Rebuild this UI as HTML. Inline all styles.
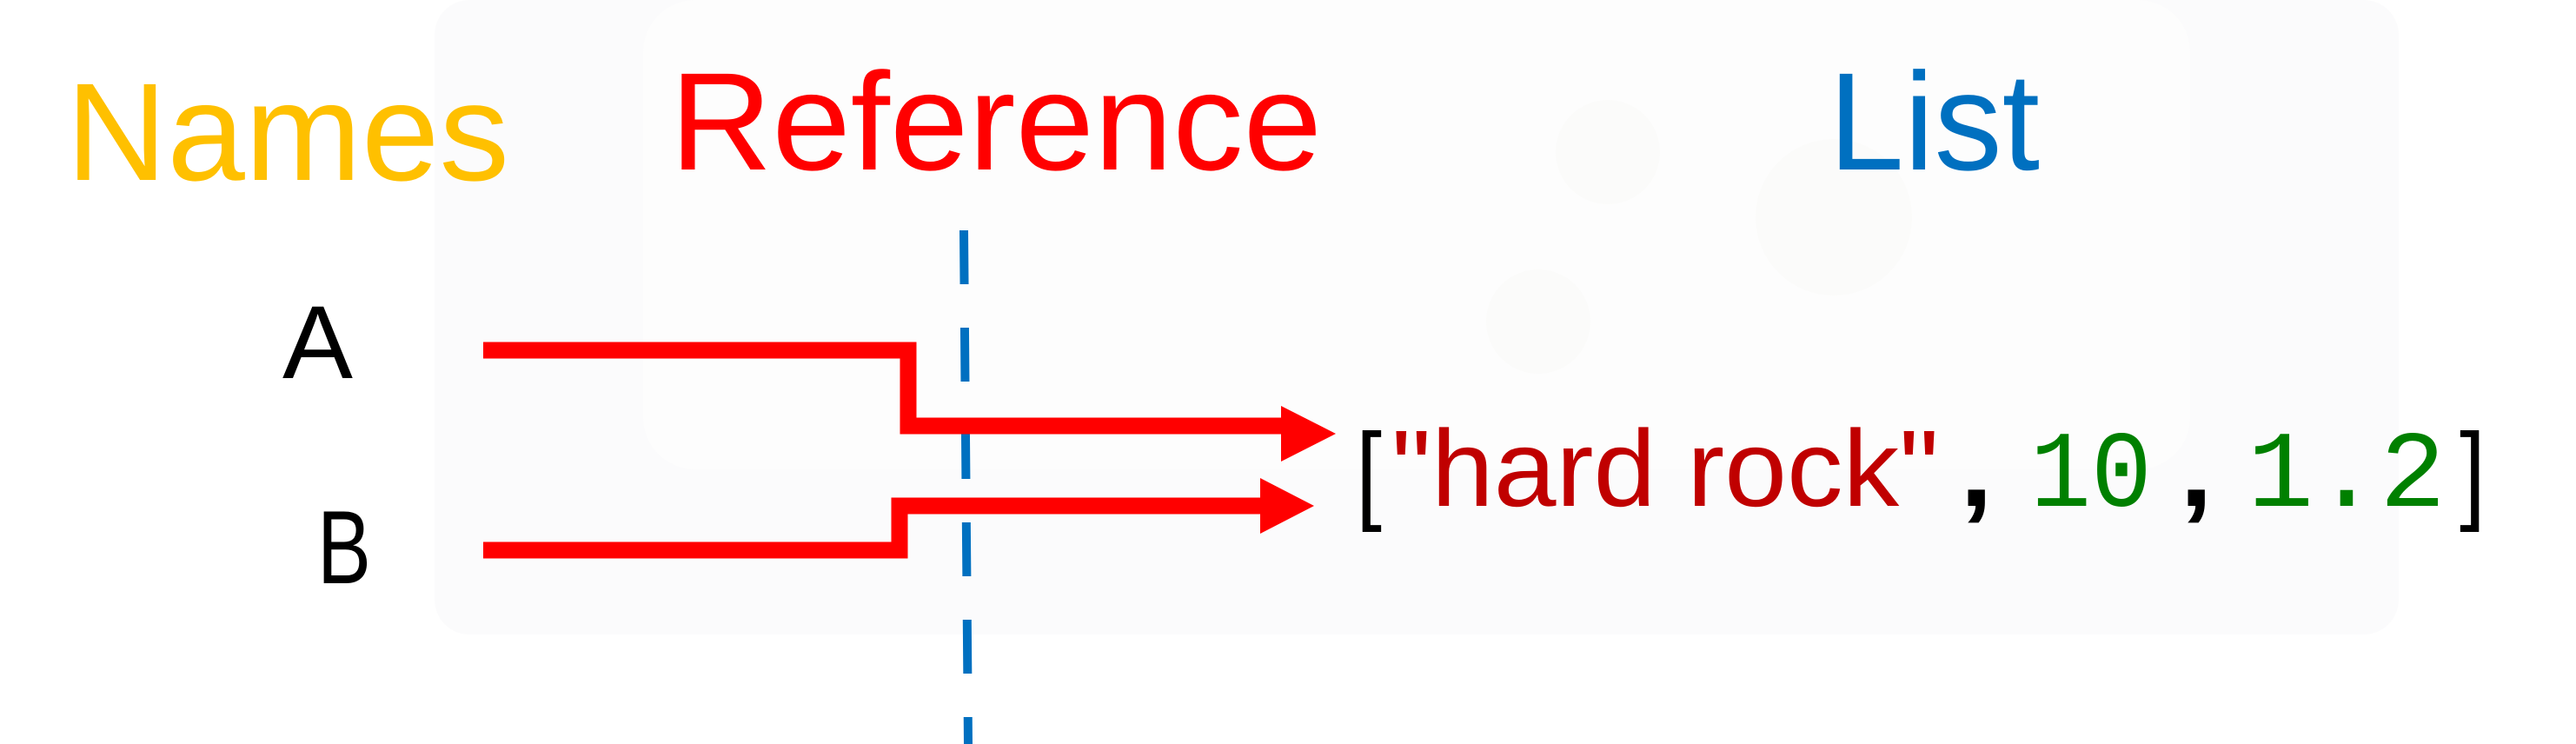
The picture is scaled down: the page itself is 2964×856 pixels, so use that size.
<!DOCTYPE html>
<html><head><meta charset="utf-8"><style>
html,body{margin:0;padding:0;background:#fff;}
svg{display:block;}
</style></head><body>
<svg width="2964" height="856" viewBox="0 0 2964 856" xmlns="http://www.w3.org/2000/svg">
  <g>
    <rect x="500" y="0" width="2260" height="730" rx="40" fill="#fbfbfc"/>
    <rect x="740" y="0" width="1780" height="540" rx="60" fill="#fdfdfd"/>
    <circle cx="1850" cy="175" r="60" fill="#fbfbfa"/>
    <circle cx="1770" cy="370" r="60" fill="#fbfbfa"/>
    <circle cx="2110" cy="250" r="90" fill="#fbfbfa"/>
  </g>
  <text x="76" y="207" font-family="Liberation Sans, sans-serif" font-size="160" fill="#ffc000" textLength="510" lengthAdjust="spacingAndGlyphs">Names</text>
  <text x="771" y="195" font-family="Liberation Sans, sans-serif" font-size="160" fill="#ff0000" textLength="750" lengthAdjust="spacingAndGlyphs">Reference</text>
  <text x="2104" y="195" font-family="Liberation Sans, sans-serif" font-size="160" fill="#0070c0" textLength="243" lengthAdjust="spacingAndGlyphs">List</text>
  <line x1="1109" y1="265" x2="1114" y2="856" stroke="#0070c0" stroke-width="10" stroke-dasharray="62,50"/>
  <text x="325" y="435" font-family="Liberation Sans, sans-serif" font-size="120" fill="#000" textLength="81" lengthAdjust="spacingAndGlyphs">A</text>
  <text x="365" y="671" font-family="Liberation Sans, sans-serif" font-size="120" fill="#000" textLength="62" lengthAdjust="spacingAndGlyphs">B</text>
  <g>
    <polyline points="556,403 1045,403 1045,490 1480,490" fill="none" stroke="#ff0000" stroke-width="19"/>
    <polygon points="1474,467 1537,499 1474,531" fill="#ff0000"/>
  </g>
  <g>
    <polyline points="556,633 1035,633 1035,582 1456,582" fill="none" stroke="#ff0000" stroke-width="19"/>
    <polygon points="1450,550 1512,582 1450,614" fill="#ff0000"/>
  </g>
  <g font-size="125">
    <text x="1560" y="586" font-family="Liberation Sans, sans-serif" fill="#000" textLength="30" lengthAdjust="spacingAndGlyphs">[</text>
    <text x="1601" y="582" font-family="Liberation Sans, sans-serif" fill="#c00000" textLength="630" lengthAdjust="spacingAndGlyphs">"hard rock"</text>
    <text x="2255" y="582" font-family="Liberation Sans, sans-serif" font-weight="bold" fill="#000" textLength="38" lengthAdjust="spacingAndGlyphs">,</text>
    <text x="2336" y="582" font-family="Liberation Mono, monospace" fill="#008000" textLength="140" lengthAdjust="spacingAndGlyphs">10</text>
    <text x="2508" y="582" font-family="Liberation Sans, sans-serif" font-weight="bold" fill="#000" textLength="38" lengthAdjust="spacingAndGlyphs">,</text>
    <text x="2586" y="582" font-family="Liberation Mono, monospace" fill="#008000" textLength="228" lengthAdjust="spacingAndGlyphs">1.2</text>
    <text x="2830" y="586" font-family="Liberation Sans, sans-serif" fill="#000" textLength="30" lengthAdjust="spacingAndGlyphs">]</text>
  </g>
</svg>
</body></html>
